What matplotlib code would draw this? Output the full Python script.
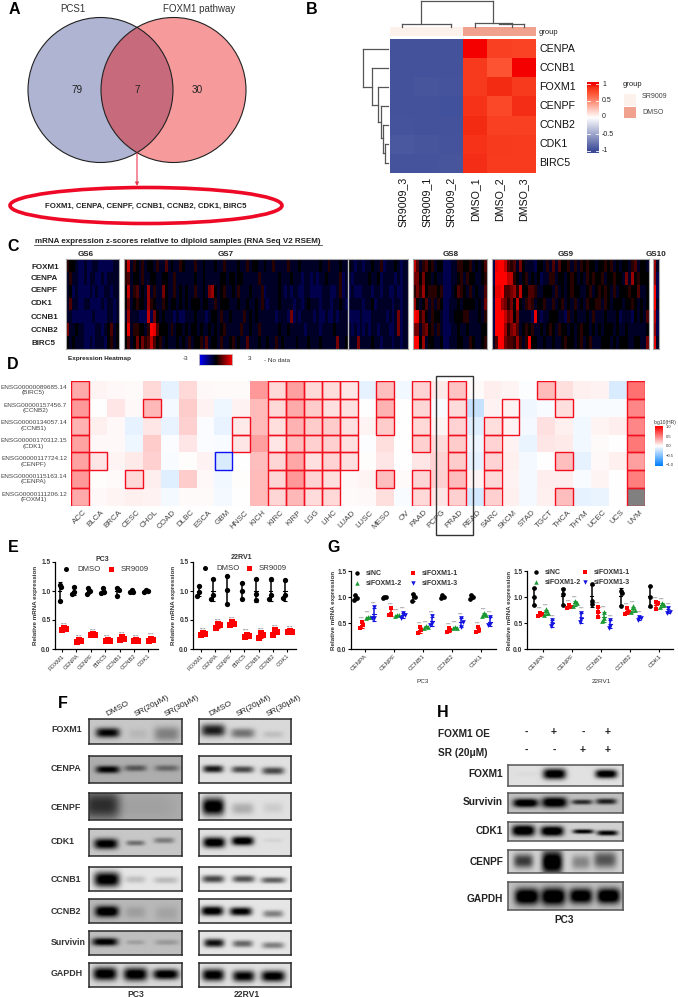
import numpy as np
import matplotlib
matplotlib.use("Agg")
import matplotlib.pyplot as plt
from matplotlib.colors import LinearSegmentedColormap
from matplotlib.patches import Circle, Ellipse, Rectangle

plt.rcParams['font.family'] = ['Liberation Sans', 'DejaVu Sans']

W, H = 678, 997

# panel B
b_genes = ['CENPA', 'CCNB1', 'FOXM1', 'CENPF', 'CCNB2', 'CDK1', 'BIRC5']
b_samples = ['SR9009_3', 'SR9009_1', 'SR9009_2', 'DMSO_1', 'DMSO_2', 'DMSO_3']
b_values = [
    [-0.95, -0.95, -0.95, 1.00, 0.82, 0.80],
    [-0.95, -0.95, -0.95, 0.85, 0.72, 1.00],
    [-0.95, -0.93, -0.94, 0.85, 0.92, 0.85],
    [-0.95, -0.95, -0.96, 0.88, 0.78, 0.90],
    [-0.94, -0.95, -0.95, 0.92, 0.82, 0.82],
    [-0.92, -0.93, -0.94, 0.88, 0.85, 0.84],
    [-0.94, -0.94, -0.93, 0.90, 0.84, 0.84],
]

# panel C, one digit per column, z = (digit - 2) * 0.45
c_genes = ['FOXM1', 'CENPA', 'CENPF', 'CDK1', 'CCNB1', 'CCNB2', 'BIRC5']
gs6 = ["322100100110000011", "131100101100101111", "120100001010011011", "141100110000101101",
       "110000000100001101", "511211000011012412", "212111001011102312"]
gs7 = [
    "3713213122131141211321113112111211311112113122112113111131112111111211311121121011011211301" + "1121011",
    "3412213112211221131111112112111112212212211111311111121112111011010112111130110111112112011" + "1101011",
    "2713412161311521131212113112156212311213111211130111121010110011000011100130101000111011011" + "0010011",
    "2512322163211321221212122212211312221112112112131011121111011012111011101121011111011201111" + "1011011",
    "1611100070521211101001112111012213112111131212111111011105010111101001001011100001000111110" + "1015011",
    "2813322139842221312212122121121212311111311211311111121121111101111011112111110101010110111" + "0015011",
    "2412525347423121112121312231412213112312114111211211312111121112111211111511211151111211011" + "1011011",
]
gs8 = ["7413423122000113322312124", "5525221211000112313221123", "3536233323000124321312114",
       "6212413132001112122221215", "9835213221001122233111213", "5514523131000112112111122",
       "9926122112001112211321123"]
gs9 = ["0899743415211102213141422313132322122323121221341221",
       "0999977321231212011331221232121323223122322151623222",
       "1889445637224431122213121232211231232321312223224112",
       "0996535272134312231131231213121322331321222122321212",
       "0999756251111081011222110312111213111211120111021214",
       "0999635641232311212321322121232212121222121121111112",
       "1499544363139221121121123221231231112221212221122115"]
gs10 = ["61", "60", "90", "91", "70", "60", "81"]
c_groups = ['GS6', 'GS7', 'GS8', 'GS9', 'GS10']

# panel D, log10(HR)
d_genes = ['ENSG00000089685.14\n(BIRC5)', 'ENSG00000157456.7\n(CCNB2)', 'ENSG00000134057.14\n(CCNB1)',
           'ENSG00000170312.15\n(CDK1)', 'ENSG00000117724.12\n(CENPF)', 'ENSG00000115163.14\n(CENPA)',
           'ENSG00000111206.12\n(FOXM1)']
d_cancers = ['ACC', 'BLCA', 'BRCA', 'CESC', 'CHOL', 'COAD', 'DLBC', 'ESCA', 'GBM', 'HNSC', 'KICH', 'KIRC',
             'KIRP', 'LGG', 'LIHC', 'LUAD', 'LUSC', 'MESO', 'OV', 'PAAD', 'PCPG', 'PRAD', 'READ', 'SARC',
             'SKCM', 'STAD', 'TGCT', 'THCA', 'THYM', 'UCEC', 'UCS', 'UVM']
d_values = np.array([
    [.33, .40, .30, .36, .36, .40, .33],
    [.04, .00, .06, .03, .10, .01, .03],
    [.03, .10, .03, .03, .04, .02, .04],
    [.02, .03, -.10, -.07, .08, .15, .06],
    [.15, .28, .10, .20, .18, .07, .05],
    [-.10, -.04, -.09, -.02, -.03, -.12, -.04],
    [.15, .20, .18, .10, .01, .20, .02],
    [.03, .05, -.02, -.02, .05, .03, .02],
    [.02, -.07, -.09, -.03, -.15, -.05, -.04],
    [.02, .05, .08, .10, .00, .01, .00],
    [.40, .27, .27, .37, .25, .27, .27],
    [.15, .15, .13, .10, .16, .16, .16],
    [.37, .33, .30, .25, .35, .40, .28],
    [.15, .20, .20, .18, .12, .17, .14],
    [.14, .12, .20, .18, .17, .13, .15],
    [.10, .12, .12, .12, .12, .03, .02],
    [-.10, .00, .04, -.01, .01, .04, .03],
    [.25, .30, .20, .13, .10, .25, .13],
    [-.05, .00, .00, .00, .00, .02, -.03],
    [.17, .16, .15, .18, .10, .16, .15],
    [.08, -.03, .04, .14, .17, .18, .10],
    [.23, .14, .17, .20, .20, .26, .18],
    [.02, -.22, -.12, -.07, -.10, .04, -.17],
    [.07, .05, .13, .17, .17, .15, .18],
    [.04, .05, .05, .05, .06, .05, .06],
    [-.01, -.06, -.04, -.08, -.04, -.04, -.04],
    [.27, -.03, .12, .10, .00, .07, .06],
    [.13, .13, .06, .08, .25, .07, .25],
    [.06, -.03, -.05, -.05, -.10, -.03, -.10],
    [.05, -.03, .04, .02, .03, .04, -.08],
    [-.15, -.03, .07, .00, .06, .00, .00],
    [.55, .47, .47, .53, .37, .50, np.nan],
]).T
d_sig = {'ACC': range(7), 'BLCA': [4], 'CESC': [5], 'CHOL': [1], 'HNSC': [2, 3], 'KIRC': range(7),
         'KIRP': range(7), 'LGG': range(7), 'LIHC': range(7), 'LUAD': range(5), 'MESO': [0, 1, 2, 5],
         'PAAD': [0, 1, 2, 3, 5, 6], 'PRAD': range(7), 'SARC': [2, 3, 4, 5, 6], 'SKCM': [1, 2],
         'TGCT': [0], 'THCA': [1, 4, 6], 'UVM': range(7)}
d_sig_low = {'GBM': [4]}

# panel E
e_genes = ['FOXM1', 'CENPA', 'CENPF', 'BIRC5', 'CCNB1', 'CCNB2', 'CDK1']
e_pc3_dmso = [[1.10, 1.07, .83], [1.07, .98, .95], [1.05, 1.00, .95], [1.05, .99, .96], [1.06, 1.02, .92],
              [1.01, .99, .99], [1.01, 1.00, .98]]
e_pc3_sr = [[.36, .34, .33], [.15, .13, .12], [.26, .25, .24], [.16, .14, .13], [.20, .17, .16],
            [.15, .14, .13], [.18, .15, .14]]
e_rv_dmso = [[1.09, .99, .92], [1.21, .93, .87], [1.26, 1.01, .78], [1.14, 1.00, .87], [1.21, .95, .85],
             [1.20, .93, .87], [1.19, .93, .88]]
e_rv_sr = [[.28, .26, .25], [.43, .41, .36], [.46, .43, .41], [.25, .22, .21], [.28, .25, .19],
           [.32, .29, .25], [.31, .30, .29]]

# panel G
g_genes = ['CENPA', 'CENPF', 'CCNB1', 'CCNB2', 'CDK1']
g_pc3_nc = [[1.04, .98, .94], [1.00, 1.00, .99], [1.06, 1.00, .93], [1.03, 1.00, .98], [1.04, 1.00, .96]]
g_pc3_1 = [[.52, .47, .41], [.78, .67, .65], [.42, .37, .31], [.40, .36, .33], [.42, .37, .33]]
g_pc3_2 = [[.62, .61, .60], [.66, .65, .64], [.44, .42, .41], [.43, .41, .40], [.69, .65, .63]]
g_pc3_3 = [[.81, .60, .59], [.70, .65, .60], [.63, .50, .47], [.59, .52, .42], [.62, .49, .47]]
g_rv_nc = [[1.17, 1.00, .85], [1.15, 1.05, .84], [1.25, .93, .86], [1.12, 1.08, .83], [1.22, 1.00, .82]]
g_rv_1 = [[.70, .67, .63], [.84, .81, .78], [.80, .72, .61], [.78, .72, .68], [.90, .88, .76]]
g_rv_2 = [[.76, .70, .66], [.92, .88, .83], [.72, .60, .54], [.82, .75, .72], [.88, .84, .80]]
g_rv_3 = [[.56, .48, .44], [.70, .57, .51], [.56, .45, .41], [.62, .59, .55], [.78, .72, .69]]

# blots: (lane x, lane y, half width, half height, darkness), fractions of the blot
f_names = ['FOXM1', 'CENPA', 'CENPF', 'CDK1', 'CCNB1', 'CCNB2', 'Survivin', 'GAPDH']
f_pc3 = [
    (.78, [(.2, .55, .13, .2, .78), (.53, .6, .1, .2, .06), (.84, .6, .14, .3, .28)]),
    (.68, [(.2, .5, .13, .14, .7), (.5, .45, .12, .12, .35), (.84, .45, .13, .12, .28)]),
    (.68, [(.13, .45, .2, .55, .5), (.6, .5, .35, .5, .05)]),
    (.78, [(.18, .55, .13, .2, .85), (.5, .52, .1, .1, .35), (.81, .42, .11, .11, .3)]),
    (.9, [(.19, .52, .14, .32, 1), (.5, .52, .11, .15, .15), (.83, .55, .13, .14, .17)]),
    (.72, [(.19, .52, .13, .24, .85), (.5, .55, .11, .25, .1), (.84, .6, .12, .3, .08)]),
    (.75, [(.17, .45, .14, .17, .8), (.5, .47, .1, .1, .13), (.84, .47, .13, .12, .15)]),
    (.85, [(.17, .45, .13, .28, .95), (.5, .47, .13, .28, .95), (.83, .47, .14, .22, .95)]),
]
f_rv = [
    (.85, [(.15, .45, .13, .25, .75), (.47, .57, .13, .2, .4), (.8, .62, .11, .14, .1)]),
    (.88, [(.15, .48, .11, .14, .8), (.47, .5, .12, .13, .6), (.8, .55, .12, .14, .6)]),
    (.88, [(.15, .5, .12, .33, 1), (.47, .58, .12, .22, .2), (.8, .55, .11, .2, .08)]),
    (.88, [(.16, .5, .12, .2, 1), (.47, .44, .12, .17, 1), (.8, .42, .1, .08, .05)]),
    (.92, [(.15, .5, .12, .16, .65), (.48, .5, .12, .15, .6), (.8, .55, .13, .13, .55)]),
    (.9, [(.14, .5, .12, .2, 1), (.45, .52, .12, .18, .95), (.8, .62, .11, .15, .4)]),
    (.9, [(.16, .5, .11, .18, .85), (.47, .53, .11, .15, .5), (.8, .6, .12, .14, .4)]),
    (.88, [(.15, .5, .12, .26, .95), (.48, .55, .12, .24, .9), (.8, .55, .13, .24, .95)]),
]
h_names = ['FOXM1', 'Survivin', 'CDK1', 'CENPF', 'GAPDH']
h_blots = [
    (.88, [(.16, .45, .1, .1, .02), (.4, .45, .1, .25, 1), (.85, .45, .095, .2, 1)]),
    (.75, [(.15, .5, .11, .22, .9), (.4, .47, .11, .27, .9), (.64, .45, .09, .13, .6), (.85, .42, .09, .15, .65)]),
    (.82, [(.13, .45, .1, .3, 1), (.38, .48, .1, .27, 1), (.65, .5, .09, .12, .85), (.86, .58, .09, .14, .85)]),
    (.82, [(.13, .5, .085, .3, .6), (.38, .55, .09, .5, 1), (.63, .55, .08, .3, .3), (.84, .45, .1, .35, .5)]),
    (.75, [(.16, .52, .105, .3, .95), (.39, .52, .105, .32, .95), (.63, .5, .1, .28, .9), (.87, .5, .1, .28, .95)]),
]


fig = plt.figure(figsize=(W / 100, H / 100), dpi=100)


def ax_px(x0, y0, x1, y1, **kw):
    return fig.add_axes([x0 / W, 1 - y1 / H, (x1 - x0) / W, (y1 - y0) / H], **kw)


top = ax_px(0, 0, W, H, zorder=10)
top.set_xlim(0, W)
top.set_ylim(H, 0)
top.axis('off')


def txt(x, y, s, size=5, ha='left', va='center', **kw):
    return top.text(x, y, s, fontsize=size, ha=ha, va=va, **kw)


for letter, x, y in [('A', 14, 9), ('B', 312, 9), ('C', 13, 246), ('D', 13, 364), ('E', 13, 547),
                     ('F', 63, 703), ('G', 334, 547), ('H', 443, 712)]:
    txt(x, y, letter, size=11.5, ha='center', weight='bold')

# A
left = Circle((100.5, 90), 72.5, fc='#AEB4D2', ec='none')
right = Circle((173.5, 90), 72.5, fc='#F79A9B', ec='none')
top.add_patch(left)
top.add_patch(right)
both = Circle((173.5, 90), 72.5, fc='#C76A7C', ec='none')
top.add_patch(both)
both.set_clip_path(Circle((100.5, 90), 72.5, transform=top.transData))
for cx in (100.5, 173.5):
    top.add_patch(Circle((cx, 90), 72.5, fc='none', ec='#222222', lw=0.8))
txt(73, 9, 'PCS1', 7, ha='center', color='#333333')
txt(199, 9, 'FOXM1 pathway', 7, ha='center', color='#333333')
for x, s in [(77, '79'), (137, '7'), (197, '30')]:
    txt(x, 90, s, 7.2, ha='center', color='#222222')
top.annotate('', xy=(137, 186), xytext=(137, 153),
             arrowprops=dict(arrowstyle='-|>', color='#E8384F', lw=0.8, mutation_scale=5, shrinkA=0, shrinkB=0))
top.add_patch(Ellipse((146, 205.5), 272, 36, fc='white', ec='#EE0A26', lw=2.6))
txt(146, 206, 'FOXM1, CENPA, CENPF, CCNB1, CCNB2, CDK1, BIRC5', 5.6, ha='center', weight='bold', color='#222222')

# B
cm_b = LinearSegmentedColormap.from_list('b', [(0, '#3B4A97'), (.5, '#FFFFFF'), (.86, '#FF5533'),
                                               (.96, '#F42C14'), (1, '#F40000')])
ax = ax_px(390, 39, 535.7, 173)
ax.imshow(b_values, cmap=cm_b, vmin=-1, vmax=1, aspect='auto', interpolation='nearest')
ax.axis('off')
ax = ax_px(390, 27, 535.7, 36)
ax.imshow([[0, 0, 0, 1, 1, 1]], cmap=LinearSegmentedColormap.from_list('g', ['#FDF1EC', '#F0A28E']),
          aspect='auto', interpolation='nearest')
ax.axis('off')
txt(539, 32, 'group', 5.5, color='#222222')
for i, g in enumerate(b_genes):
    txt(539, 39 + 19.14 * (i + .5), g, 7.7, color='#111111')
for i, s in enumerate(b_samples):
    txt(390 + 24.28 * (i + .5), 177, s, 7.7, ha='center', va='top', rotation=90, color='#111111')
dendro = [
    (421, 1, 493, 1), (421, 1, 421, 24), (493, 1, 493, 23), (402, 24, 451, 24), (402, 24, 402, 27), (451, 24, 451, 27),
    (475, 23.5, 512, 23.5), (475, 23.5, 475, 27), (512, 23.5, 512, 27), (499, 24.5, 524, 24.5), (524, 24.5, 524, 27),
    (363, 48.6, 388, 48.6), (363, 48.6, 363, 87), (363, 87, 372, 87), (372, 67.7, 372, 105), (372, 67.7, 388, 67.7),
    (372, 105, 378, 105), (378, 86.8, 378, 122), (378, 86.8, 388, 86.8), (378, 122, 381, 122), (381, 105.9, 381, 138),
    (381, 105.9, 388, 105.9), (381, 138, 383, 138), (383, 125, 383, 153), (383, 125, 388, 125), (383, 153, 385, 153),
    (385, 144, 385, 163), (385, 144, 388, 144), (385, 163, 388, 163),
]
for x0, y0, x1, y1 in dendro:
    top.plot([x0, x1], [y0, y1], color='#555555', lw=0.9, solid_capstyle='projecting')
ax = ax_px(587, 82, 599, 153)
ax.imshow(np.linspace(1.05, -1.05, 100)[:, None], cmap=cm_b, vmin=-1, vmax=1, aspect='auto',
          extent=(0, 1, -1.05, 1.05))
ax.axis('off')
for v, y, s in [(1, 84, '1'), (.5, 100, '0.5'), (0, 117, '0'), (-.5, 134, '-0.5'), (-1, 151, '-1')]:
    ax.plot([0, .22], [v, v], color='white', lw=0.6)
    ax.plot([.78, 1], [v, v], color='white', lw=0.6)
    txt(602, y, s, 5, color='#222222')
ax.set_xlim(0, 1)
ax.set_ylim(-1.05, 1.05)
txt(623, 85, 'group', 5.5, color='#222222')
top.add_patch(Rectangle((624, 94), 12, 12, fc='#FDF1EC', ec='none'))
top.add_patch(Rectangle((624, 107), 12, 11, fc='#F0A28E', ec='none'))
txt(642, 97, 'SR9009', 5, color='#444444')
txt(642, 112, 'DMSO', 5, color='#444444')

# C
txt(178, 241, 'mRNA expression z-scores relative to diploid samples (RNA Seq V2 RSEM)', 5.75, ha='center', weight='bold',
    color='#222222')
top.plot([34, 322], [245, 245], color='#222222', lw=0.5)
cm_c = LinearSegmentedColormap.from_list('c', ['#0000FF', '#000000', '#FF0000'])


def heat_c(rows, x0, x1):
    n = max(len(r) for r in rows)
    z = np.array([[(int(c) - 2) * 0.45 for c in r.ljust(n, '1')] for r in rows])
    a = ax_px(x0, 259, x1, 349)
    a.imshow(z, cmap=cm_c, vmin=-3, vmax=3, aspect='auto', interpolation='nearest')
    a.set_xticks([])
    a.set_yticks([])
    for s in a.spines.values():
        s.set_color('#A8A8A8')
        s.set_linewidth(0.8)
    return a


heat_c(gs6, 66, 119)
heat_c(gs7, 124, 408)
heat_c(gs8, 413, 487)
heat_c(gs9, 492, 649)
heat_c(gs10, 653, 659)
top.plot([348, 348], [259, 349], color='#C0C0C0', lw=1)
for g, x in zip(c_groups, [86, 226, 451, 566, 656]):
    txt(x, 254, g, 5.8, ha='center', weight='bold', color='#222222')
for g, y in zip(c_genes, [267, 278, 290, 303, 317, 330, 343]):
    txt(31, y, g, 5.8, weight='bold', color='#222222')
txt(68, 358, 'Expression Heatmap', 4.6, weight='bold', color='#222222')
txt(186, 358, '-3', 4.6, ha='center', color='#333333')
txt(250, 358, '3', 4.6, ha='center', color='#333333')
txt(264, 360, '- No data', 4.6, color='#333333')
ax = ax_px(199, 354, 232, 365)
ax.imshow(np.linspace(-3, 3, 60)[None, :], cmap=cm_c, vmin=-3, vmax=3, aspect='auto')
ax.set_xticks([])
ax.set_yticks([])
for s in ax.spines.values():
    s.set_color('#C8C8C8')
    s.set_linewidth(0.6)

# D
cm_d = LinearSegmentedColormap.from_list('d', ['#007FFF', '#FFFFFF', '#FF0000'])
cm_d.set_bad('#808080')
ax = ax_px(71, 381, 645, 506)
ax.imshow(np.ma.masked_invalid(d_values), cmap=cm_d, vmin=-1, vmax=1, aspect='auto', interpolation='nearest')
ax.set_xlim(-.5, 31.5)
ax.set_ylim(6.5, -.5)
for name, rows in d_sig.items():
    for r in rows:
        ax.add_patch(Rectangle((d_cancers.index(name) - .5, r - .5), 1, 1, fc='none', ec='#F01020', lw=1.0))
for name, rows in d_sig_low.items():
    for r in rows:
        ax.add_patch(Rectangle((d_cancers.index(name) - .5, r - .5), 1, 1, fc='none', ec='#1010F0', lw=1.0))
ax.axis('off')
for i, g in enumerate(d_genes):
    txt(67, 381 + 17.86 * (i + .5), g, 4.6, ha='right', multialignment='center', linespacing=1.1, color='#444444')
for i, c in enumerate(d_cancers):
    txt(71 + 17.94 * (i + .5) + 3, 509, c, 5.8, ha='right', va='top', rotation=45, rotation_mode='anchor', color='#444444')
top.add_patch(Rectangle((436, 376), 37, 159, fc='none', ec='#333333', lw=1))
ax = ax_px(655, 426, 663, 466)
ax.imshow(np.linspace(1, -1, 80)[:, None], cmap=cm_d, vmin=-1, vmax=1, aspect='auto')
ax.axis('off')
txt(654, 422, 'log10(HR)', 3.6, color='#333333')
for s, y in zip(['1.0', '0.5', '0.0', '−0.5', '−1.0'], [427, 437, 446, 456, 465]):
    txt(666, y, s, 3, color='#333333')


def swarm(vals, step):
    # spread points sitting at about the same height
    out = []
    for i, v in enumerate(vals):
        if i and abs(v - vals[i - 1]) < 0.07:
            out.append(step if i == 1 else -step)
        else:
            out.append(0)
    return out


def dots(a, groups, pos, color, marker, ms, step):
    for i, vals in enumerate(groups):
        xs = [i + pos + o for o in swarm(vals, step)]
        m, sd = np.mean(vals), np.std(vals, ddof=1)
        a.errorbar(i + pos, m, yerr=sd, color=color, lw=1.1, capsize=1.2, capthick=0.8, zorder=2)
        a.plot([i + pos - step, i + pos + step], [m, m], color=color, lw=0.8, zorder=2)
        a.plot(xs, vals, ls='none', marker=marker, color=color, ms=ms, mew=0, zorder=3, clip_on=False)


def dot_axes(x0, x1, y0, c0, sp, names, ylabel_x, rot_size=4.4):
    a = ax_px(x0, y0, x1, 649)
    a.patch.set_alpha(0)
    a.set_xlim((x0 - c0) / sp, (x1 - c0) / sp)
    a.set_ylim(0, 1.5)
    a.set_yticks([0, .5, 1, 1.5])
    a.set_yticklabels(['0.0', '0.5', '1.0', '1.5'], fontsize=4.8, weight='bold', color='#333333')
    a.set_xticks(range(len(names)))
    a.set_xticklabels(names, fontsize=rot_size, rotation=45, ha='right', rotation_mode='anchor', color='#333333')
    a.tick_params(length=2, width=0.8, pad=1.2)
    for s in ('top', 'right'):
        a.spines[s].set_visible(False)
    for s in ('left', 'bottom'):
        a.spines[s].set_linewidth(0.9)
    txt(ylabel_x, (y0 + 649) / 2, 'Relative mRNA expression', 4.5, ha='center', rotation=90, weight='bold', color='#333333')
    return a


# E
for x0, x1, c0, dmso, sr, title, tx, ty, lx, ly, gap in [
        (55, 158, 62, e_pc3_dmso, e_pc3_sr, 'PC3', 102, 559, 66, 569, 45),
        (193, 296, 201, e_rv_dmso, e_rv_sr, '22RV1', 241, 557, 205, 568, 44)]:
    ax = dot_axes(x0, x1, 562, c0, 14.4, e_genes, x0 - 19, 4.2)
    dots(ax, dmso, -.17, 'black', 'o', 3.8, .12)
    dots(ax, sr, .17, '#FF0000', 's', 3.8, .14)
    for i, vals in enumerate(sr):
        ax.text(i + .17, max(vals) + .025, '****', fontsize=3, ha='center', va='bottom', color='#555555')
    txt(tx, ty, title, 5, ha='center', weight='bold', color='#333333')
    top.plot([lx], [ly], 'o', color='black', ms=3.6, mew=0)
    top.plot([lx + gap], [ly], 's', color='#FF0000', ms=3.6, mew=0)
    txt(lx + 11, ly, 'DMSO', 5.6, color='#333333')
    txt(lx + gap + 10, ly, 'SR9009', 5.6, color='#333333')

# G
g_colors = ['black', '#FF0000', '#1B9A33', '#1414E0']
g_markers = ['o', 's', '^', 'v']
for x0, x1, c0, series, lx, ly, ylx, ptitle, px_t in [
        (351, 496, 364.7, [g_pc3_nc, g_pc3_1, g_pc3_2, g_pc3_3], 357, 573, 333, 'PC3', 423),
        (527, 673, 543, [g_rv_nc, g_rv_1, g_rv_2, g_rv_3], 536, 572, 510, '22RV1', 601)]:
    ax = dot_axes(x0, x1, 571, c0, 29, g_genes, ylx)
    for k, s in enumerate(series):
        dots(ax, s, (k - 1.5) * .217, g_colors[k], g_markers[k], 3.4, .06)
        if k:
            for i, vals in enumerate(s):
                ax.text(i + (k - 1.5) * .217, max(vals) + .03, '****', fontsize=2.6, ha='center', va='bottom', color='#555555')
    labs = ['siNC', 'siFOXM1-1', 'siFOXM1-2', 'siFOXM1-3']
    x2 = lx + 56 if ptitle == 'PC3' else lx + 49
    for k, (mx, my) in enumerate([(lx, ly), (x2, ly), (lx, ly + 10), (x2, ly + 10)]):
        top.plot([mx], [my], g_markers[k], color=g_colors[k], ms=3.2, mew=0)
        txt(mx + 9, my, labs[k], 5, weight='bold', color='#333333')
    txt(px_t, 681, ptitle, 4.6, ha='center', color='#333333')


def blot(x0, y0, x1, y1, bg, bands, frame='#2A2A2A'):
    yy, xx = np.mgrid[0:1:40j, 0:1:120j]
    im = np.full(xx.shape, float(bg))
    for xc, yc, w, h, d in bands:
        im = im - d * np.exp(-(np.abs(xx - xc) / w) ** 4 - (np.abs(yy - yc) / h) ** 2.4)
    a = ax_px(x0, y0, x1, y1)
    a.imshow(np.clip(im, 0, 1), cmap='gray', vmin=0, vmax=1, aspect='auto', interpolation='bilinear')
    a.set_xticks([])
    a.set_yticks([])
    for s in a.spines.values():
        s.set_color(frame)
        s.set_linewidth(1.1)
    return a


# F
f_tops = [193, 303, 414, 523, 637, 733, 829, 925]
f_bots = [268, 383, 495, 604, 707, 804, 900, 996]
f_label_y = [223, 339, 458, 558, 672, 768, 863, 956]
for i, name in enumerate(f_names):
    y0, y1 = 655 + f_tops[i] / 3, 655 + f_bots[i] / 3
    blot(89, y0, 182, y1, *f_pc3[i])
    blot(199, y0, 291, y1, *f_rv[i])
    txt(51, 655 + f_label_y[i] / 3, name, 6.4, weight='bold', color='#333333')
for x, s in zip([108, 137, 167, 211, 239, 269], ['DMSO', 'SR(20μM)', 'SR(30μM)'] * 2):
    txt(x, 718, s, 6, ha='left', va='bottom', rotation=28, rotation_mode='anchor', color='#222222')
txt(136, 994, 'PC3', 6.2, ha='center', weight='bold', color='#333333')
txt(247, 994, '22RV1', 6.2, ha='center', weight='bold', color='#333333')

# H
h_tops = [284, 370, 457, 539, 637]
h_bots = [348, 430, 514, 610, 719]
h_label_y = [312, 395, 483, 575, 687]
for i, name in enumerate(h_names):
    blot(507.7, 670 + h_tops[i] / 3, 623, 670 + h_bots[i] / 3, *h_blots[i], frame='#555555')
    txt(503, 670 + h_label_y[i] / 3, name, 7.3, ha='right', weight='bold', color='#222222')
txt(438, 734, 'FOXM1 OE', 7.3, weight='bold', color='#222222')
txt(438, 753, 'SR (20μM)', 7.3, weight='bold', color='#222222')
for x, a, b in zip([526, 554, 583, 608], ['-', '+', '-', '+'], ['-', '-', '+', '+']):
    txt(x, 732, a, 7.5, ha='center', weight='bold', color='#222222')
    txt(x, 750, b, 7.5, ha='center', weight='bold', color='#222222')
txt(564, 920, 'PC3', 7.3, ha='center', weight='bold', color='#222222')

fig.savefig('out.png', dpi=100)
